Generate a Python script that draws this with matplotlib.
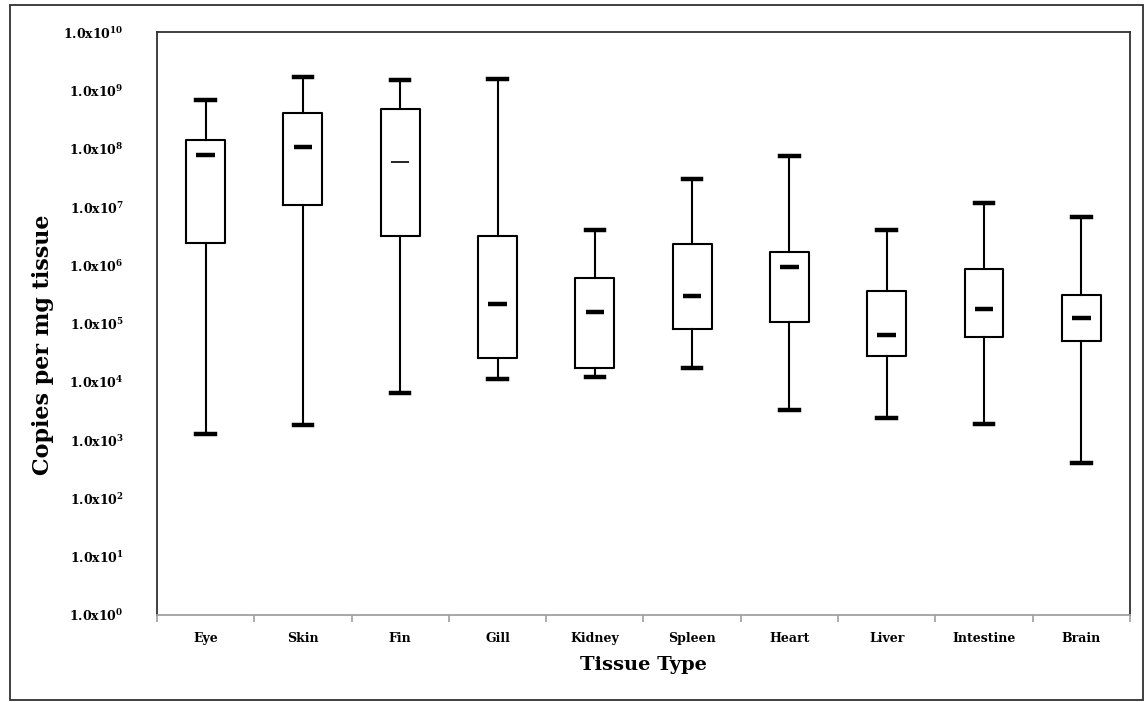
import matplotlib

matplotlib.use("Agg")

import matplotlib.pyplot as plt
from matplotlib.patches import Rectangle
import numpy as np

# values (copies per mg tissue)
tissues = ["Eye", "Skin", "Fin", "Gill", "Kidney", "Spleen", "Heart", "Liver", "Intestine", "Brain"]
whisker_low = [1.3e3, 1.8e3, 6.4e3, 1.1e4, 1.2e4, 1.7e4, 3.3e3, 2.4e3, 1.9e3, 4.1e2]
q1 = [2.4e6, 1.1e7, 3.2e6, 2.6e4, 1.7e4, 8.1e4, 1.06e5, 2.8e4, 5.9e4, 5.0e4]
medians = [7.8e7, 1.07e8, 5.9e7, 2.2e5, 1.6e5, 3.0e5, 9.3e5, 6.3e4, 1.8e5, 1.24e5]
q3 = [1.4e8, 4.1e8, 4.8e8, 3.2e6, 6.0e5, 2.3e6, 1.7e6, 3.7e5, 8.6e5, 3.1e5]
whisker_high = [6.8e8, 1.7e9, 1.5e9, 1.6e9, 4.0e6, 3.0e7, 7.4e7, 4.0e6, 1.17e7, 6.7e6]

ytick_exps = list(range(0, 11))
ytick_labels = ["1.0x10$^{%d}$" % e for e in ytick_exps]

plt.rcParams["font.family"] = "DejaVu Serif"
plt.rcParams["font.weight"] = "bold"
plt.rcParams["mathtext.fontset"] = "dejavuserif"
plt.rcParams["mathtext.default"] = "bf"

fig = plt.figure(figsize=(11.46, 7.02), dpi=100)
ax = fig.add_axes([0.137, 0.124, 0.849, 0.830])

stats = []
for i, name in enumerate(tissues):
    stats.append(
        {
            "label": name,
            "whislo": whisker_low[i],
            "q1": q1[i],
            "med": medians[i],
            "q3": q3[i],
            "whishi": whisker_high[i],
            "fliers": [],
        }
    )

positions = np.arange(1, len(tissues) + 1)
ax.bxp(
    stats,
    positions=positions,
    widths=0.4,
    showfliers=False,
    capwidths=0.19,
    boxprops=dict(color="black", linewidth=1.5),
    whiskerprops=dict(color="black", linewidth=1.5),
    capprops=dict(color="black", linewidth=3.2),
    medianprops=dict(visible=False),
)

# short thick median bars (Fin's is thin in the original)
med_lw = [3.2] * len(tissues)
med_lw[2] = 1.2
for p, m, lw in zip(positions, medians, med_lw):
    ax.hlines(m, p - 0.095, p + 0.095, color="black", linewidth=lw)

ax.set_yscale("log")
ax.set_ylim(1, 1e10)
ax.set_xlim(0.5, len(tissues) + 0.5)
ax.set_yticks([10.0**e for e in ytick_exps])
ax.set_yticklabels(ytick_labels, fontsize=9, fontweight="bold")
ax.yaxis.set_minor_locator(matplotlib.ticker.NullLocator())
ax.tick_params(axis="y", length=0, pad=24)

# boundary ticks on x, labels in the middle
ax.set_xticks(np.arange(0.5, len(tissues) + 1, 1.0))
ax.set_xticklabels([])
ax.set_xticks(positions, minor=True)
ax.set_xticklabels(tissues, minor=True, fontsize=9, fontweight="bold")
ax.tick_params(axis="x", which="major", length=5, color="#a0a0a0", width=1.2)
ax.tick_params(axis="x", which="minor", length=0, pad=12)

for s in ["top", "right", "left"]:
    ax.spines[s].set_color("#303030")
    ax.spines[s].set_linewidth(1.3)
ax.spines["bottom"].set_color("#a0a0a0")
ax.spines["bottom"].set_linewidth(1.3)

ax.set_ylabel("Copies per mg tissue", fontsize=16, fontweight="bold")
ax.yaxis.set_label_coords(-0.106, 0.463)
ax.set_xlabel("Tissue Type", fontsize=14, fontweight="bold", labelpad=8)

fig.patches.append(
    Rectangle(
        (0.0087, 0.003), 0.9887, 0.990,
        transform=fig.transFigure, fill=False, edgecolor="#303030", linewidth=1.3,
    )
)

plt.savefig("out.png", dpi=100)
plt.close()
